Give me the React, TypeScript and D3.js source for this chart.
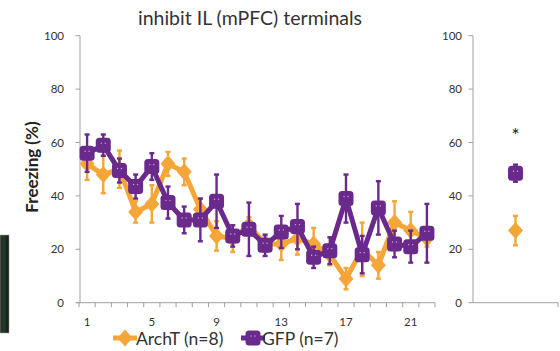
import React from "react";
import * as d3 from "d3";

const sessions = [1, 2, 3, 4, 5, 6, 7, 8, 9, 10, 11, 12, 13, 14, 15, 16, 17, 18, 19, 20, 21, 22];
const xTickLabels = [1, 5, 9, 13, 17, 21];
const yTicks = [0, 20, 40, 60, 80, 100];

const archT = [52, 48, 50, 34, 37, 52, 49, 35, 25, 24, 29, 22, 22, 24, 22, 18, 9, 20, 14, 30, 27, 24];
const archTErr = [6, 7, 7, 4, 7, 4.5, 5, 4, 5.5, 5, 3, 3, 6, 6, 6, 4, 4, 10, 5, 8, 7, 3];
const gfp = [56, 59, 49.5, 43.5, 51, 37.5, 31, 31, 38, 25, 27.5, 21.5, 26.5, 28.5, 17, 19.5, 39, 18, 35.5, 22, 21, 26];
const gfpErr = [7, 4, 4.5, 4.5, 5, 6, 5, 8, 10, 4, 10, 4, 6, 8.5, 4, 5, 9, 7, 10, 5, 6, 11];

const summaryGroups = ["test"];
const summaryArchT = [27];
const summaryArchTErr = [5.5];
const summaryGfp = [48.5];
const summaryGfpErr = [3.2];
const summaryStar = [65];

const ORANGE = "#F5A638";
const PURPLE = "#6A2A8B";
const AXIS = "#a0a0a0";
const TEXT = "#333";
const FONT = "Lato, 'Open Sans', sans-serif";

const diamond = "M0,-8.5L7.5,0L0,8.5L-7.5,0Z";

function Square({ x, y }: { x: number; y: number }) {
  return (
    <g>
      <rect x={x - 7.5} y={y - 7.5} width={15} height={15} rx={3.5} fill={PURPLE} />
      <circle cx={x - 2} cy={y - 2} r={0.7} fill="#c9a9d8" />
      <circle cx={x + 2} cy={y - 2} r={0.7} fill="#c9a9d8" />
    </g>
  );
}

function ErrBar({ x, y0, y1, color }: { x: number; y0: number; y1: number; color: string }) {
  return (
    <g stroke={color} strokeWidth={2.4}>
      <line x1={x} x2={x} y1={y0} y2={y1} />
      <line x1={x - 2.5} x2={x + 2.5} y1={y0} y2={y0} />
      <line x1={x - 2.5} x2={x + 2.5} y1={y1} y2={y1} />
    </g>
  );
}

export default function App() {
  const y = d3.scaleLinear().domain([0, 100]).range([302.7, 35.7]);
  const x = d3.scaleBand<number>().domain(sessions).range([79, 435]);
  const cx = (s: number) => (x(s) as number) + x.bandwidth() / 2;
  const xs = d3.scaleBand<string>().domain(summaryGroups).range([473, 558]);
  const sx = (g: string) => (xs(g) as number) + xs.bandwidth() / 2;

  const line = d3
    .line<number>()
    .x((_, i) => cx(sessions[i]))
    .y((d) => y(d));

  return (
    <svg
      width={560}
      height={351}
      style={{ position: "absolute", left: 0, top: 0, background: "#fff" }}
      fontFamily={FONT}
    >
      <defs>
        <linearGradient id="blk" x1="0" x2="1" y1="0" y2="0">
          <stop offset="0" stopColor="#2a2e2a" />
          <stop offset="0.5" stopColor="#1f3a22" />
          <stop offset="1" stopColor="#0d140d" />
        </linearGradient>
      </defs>
      <rect x={0} y={235} width={9} height={98} fill="url(#blk)" stroke="#9a9a9a" strokeWidth={0.6} />

      <text x={250} y={25} textAnchor="middle" fontSize={19.5} fill={TEXT}>
        inhibit IL (mPFC) terminals
      </text>

      {/* left y axis */}
      <line x1={80} x2={80} y1={y(100)} y2={y(0)} stroke={AXIS} strokeWidth={1} />
      {yTicks.map((t) => (
        <g key={"yt" + t}>
          <line x1={75.5} x2={80} y1={y(t)} y2={y(t)} stroke={AXIS} />
          <text x={64} y={y(t)} dy="0.35em" textAnchor="end" fontSize={11.5} fill={TEXT}>
            {t}
          </text>
        </g>
      ))}
      <text
        transform={`translate(38,167) rotate(-90)`}
        textAnchor="middle"
        fontSize={17}
        fontWeight="bold"
        fill="#222"
      >
        Freezing (%)
      </text>

      {/* left x axis */}
      <line x1={76} x2={435} y1={y(0)} y2={y(0)} stroke={AXIS} />
      {sessions.map((s) => (
        <line
          key={"xt" + s}
          x1={(x(s) as number) + x.bandwidth()}
          x2={(x(s) as number) + x.bandwidth()}
          y1={y(0)}
          y2={y(0) + 4.5}
          stroke={AXIS}
        />
      ))}
      <line x1={x(1) as number} x2={x(1) as number} y1={y(0)} y2={y(0) + 4.5} stroke={AXIS} />
      {xTickLabels.map((s) => (
        <text key={"xl" + s} x={cx(s)} y={326} textAnchor="middle" fontSize={11.5} fill={TEXT}>
          {s}
        </text>
      ))}

      {/* ArchT series */}
      <path d={line(archT) || ""} fill="none" stroke={ORANGE} strokeWidth={5} strokeLinejoin="round" />
      {archT.map((v, i) => (
        <ErrBar
          key={"ae" + i}
          x={cx(sessions[i])}
          y0={y(v + archTErr[i])}
          y1={y(v - archTErr[i])}
          color={ORANGE}
        />
      ))}
      {archT.map((v, i) => (
        <path key={"am" + i} d={diamond} transform={`translate(${cx(sessions[i])},${y(v)})`} fill={ORANGE} />
      ))}

      {/* GFP series */}
      <path d={line(gfp) || ""} fill="none" stroke={PURPLE} strokeWidth={5} strokeLinejoin="round" />
      {gfp.map((v, i) => (
        <ErrBar
          key={"ge" + i}
          x={cx(sessions[i])}
          y0={y(v + gfpErr[i])}
          y1={y(v - gfpErr[i])}
          color={PURPLE}
        />
      ))}
      {gfp.map((v, i) => (
        <Square key={"gm" + i} x={cx(sessions[i])} y={y(v)} />
      ))}

      {/* right panel */}
      <line x1={473} x2={473} y1={y(100)} y2={y(0)} stroke={AXIS} />
      {yTicks.map((t) => (
        <g key={"ryt" + t}>
          <line x1={468.5} x2={473} y1={y(t)} y2={y(t)} stroke={AXIS} />
          <text x={462} y={y(t)} dy="0.35em" textAnchor="end" fontSize={11.5} fill={TEXT}>
            {t}
          </text>
        </g>
      ))}
      <line x1={473} x2={558} y1={y(0)} y2={y(0)} stroke={AXIS} />
      <line x1={558} x2={558} y1={y(0)} y2={y(0) + 4.5} stroke={AXIS} />
      {summaryGroups.map((g, i) => (
        <g key={"sg" + g}>
          <ErrBar
            x={sx(g)}
            y0={y(summaryArchT[i] + summaryArchTErr[i])}
            y1={y(summaryArchT[i] - summaryArchTErr[i])}
            color={ORANGE}
          />
          <path d={diamond} transform={`translate(${sx(g)},${y(summaryArchT[i])})`} fill={ORANGE} />
          <ErrBar
            x={sx(g)}
            y0={y(summaryGfp[i] + summaryGfpErr[i])}
            y1={y(summaryGfp[i] - summaryGfpErr[i])}
            color={PURPLE}
          />
          <Square x={sx(g)} y={y(summaryGfp[i])} />
          <text x={sx(g)} y={y(summaryStar[i])} dy="0.65em" textAnchor="middle" fontSize={19} fill="#222">
            *
          </text>
        </g>
      ))}

      {/* legend */}
      <line x1={113} x2={137} y1={338} y2={338} stroke={ORANGE} strokeWidth={5} />
      <path d={diamond} transform="translate(125,338)" fill={ORANGE} />
      <text x={136} y={345} fontSize={17.5} fill={TEXT}>
        ArchT (n=8)
      </text>
      <line x1={241} x2={265} y1={338} y2={338} stroke={PURPLE} strokeWidth={5} />
      <Square x={253} y={338} />
      <text x={262} y={345} fontSize={17.5} fill={TEXT}>
        GFP (n=7)
      </text>
    </svg>
  );
}
